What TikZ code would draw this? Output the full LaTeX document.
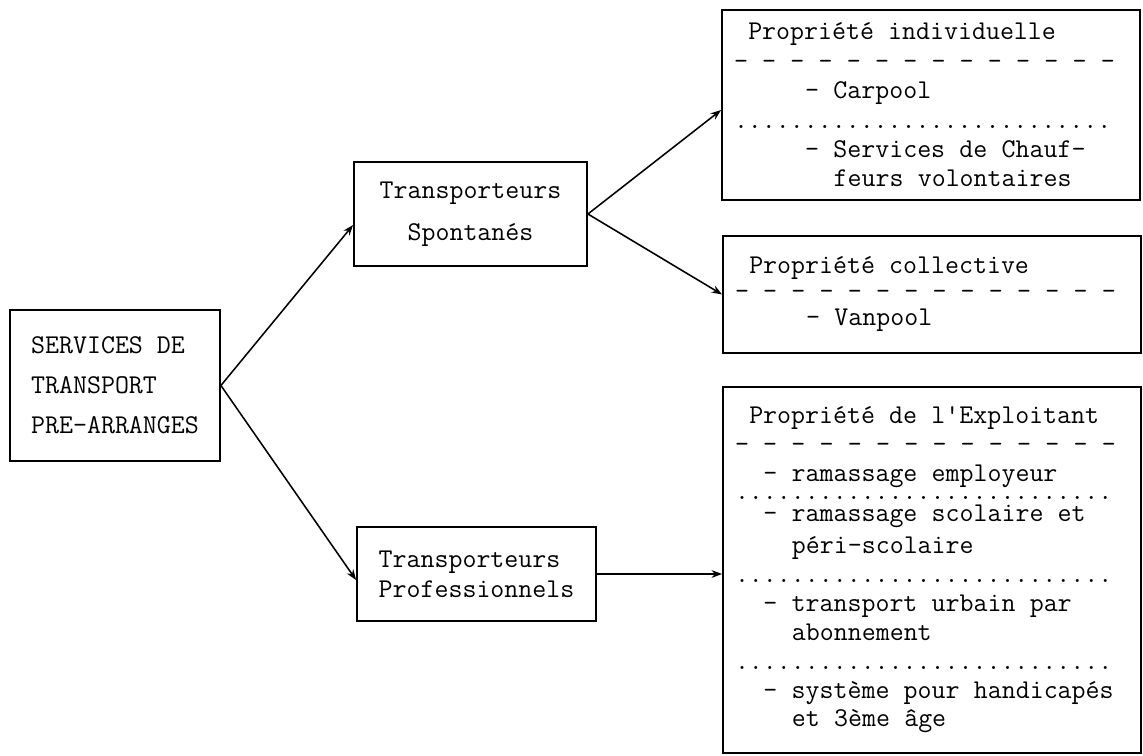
\documentclass[tikz,border=0pt]{standalone}
\usepackage{tikz}
\usetikzlibrary{arrows.meta}
\newcommand{\skipcols}[1]{\hspace*{#1\dimexpr.525em\relax}}
\newcommand{\typed}[1]{\ttfamily\fontsize{19.3}{#1}\selectfont}
\tikzstyle{source} = [font=\typed{28.5pt}, rectangle, line width=1.3pt, minimum width=5.25cm, minimum height=3.775cm, align=left, draw=black]
\tikzstyle{carrier} = [font=\typed{29.9pt}, rectangle, line width=1.3pt, minimum width=5.825cm, minimum height=2.6cm, align=center, draw=black]
\tikzstyle{owner} = [font=\typed{20.9pt}, rectangle, line width=1.3pt, text width=9.85cm, inner xsep=0.3cm, minimum width=10.45cm,
  align=flush left, execute at begin node={\spaceskip=.525em\relax}, draw=black]
\tikzstyle{arrow} = [line width=1.1pt,-{Stealth[length=7.5pt,width=5.5pt]}]

\begin{document}
\begin{tikzpicture}
  \useasboundingbox (0,0) rectangle (28.575,-18.875);
  \node (serv) [source] at (2.875,-9.6375) {SERVICES DE\\TRANSPORT\\PRE-ARRANGES};
  \node (spont) [carrier, right of=serv, xshift=7.8875cm, yshift=4.2875cm]{Transporteurs\\Spontanés};
  \node (prof) [carrier, below of=spont, xshift=0.15cm, yshift=-8cm, minimum width=5.975cm, minimum height=2.35cm,
    align=left, font=\typed{21.3pt}]{Transporteurs\\Professionnels};
  \node (indiv) [owner, right of=spont, xshift=10.5125cm, yshift=2.725cm, minimum height=4.75cm]{\skipcols{1}Propriété individuelle\\
    - - - - - - - - - - - - - -\\
    \skipcols{5}- Carpool\\
    ...........................\\
    \skipcols{5}- Services de Chauf-\\
    \skipcols{7}feurs volontaires};
  \node (collect) [owner, below of=indiv, xshift=0.025cm, yshift=-3.7375cm, minimum height=2.925cm,
    font=\typed{18.5pt}]{\skipcols{1}Propriété collective\\
    - - - - - - - - - - - - - -\\
    \skipcols{5}- Vanpool};
  \node (exploit) [owner, right of=prof, xshift=10.3875cm, yshift=0.1cm, minimum height=9.15cm,
    font=\typed{20.55pt}]{\skipcols{1}Propriété de l'Exploitant\\
    - - - - - - - - - - - - - -\\
    \skipcols{2}- ramassage employeur\\[-7.75pt]
    ...........................\\[-4.9pt]
    \skipcols{2}- ramassage scolaire et\\[2.2pt]
    \skipcols{4}péri-scolaire\\
    ...........................\\
    \skipcols{2}- transport urbain par\\
    \skipcols{4}abonnement\\
    ...........................\\
    \skipcols{2}- système pour handicapés\\
    \skipcols{4}et 3ème âge};
  \draw[arrow](serv.east) -- ([yshift=-0.275cm]spont.west);
  \draw[arrow](serv.east) -- ([yshift=-0.15cm]prof.west);
  \draw[arrow](spont.east) -- ([yshift=-0.125cm]indiv.west);
  \draw[arrow](spont.east) -- (collect.west);
  \draw[arrow](prof.east) -- (prof.east -| exploit.west);
\end{tikzpicture}
\end{document}
